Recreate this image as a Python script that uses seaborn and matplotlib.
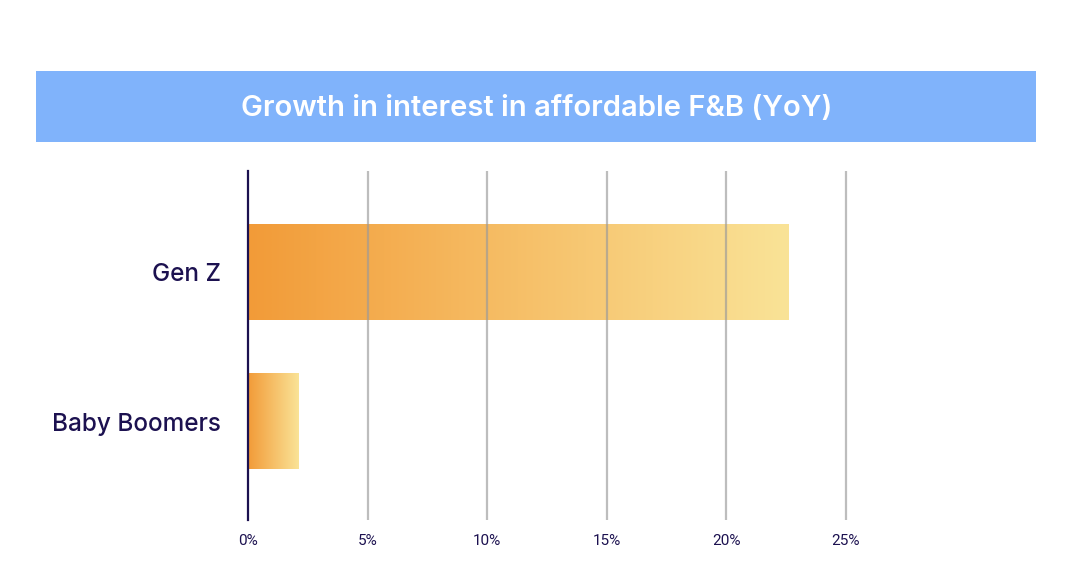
import numpy as np
import pandas as pd
import matplotlib
matplotlib.use("Agg")
import matplotlib.pyplot as plt
import seaborn as sns
from matplotlib.colors import LinearSegmentedColormap
from matplotlib.patches import Rectangle

# ------------------------------------------------
# DATA
# ------------------------------------------------

groups = ["Gen Z", "Baby Boomers"]
growth_pct = [22.6, 2.1]
tick_values = [0, 5, 10, 15, 20, 25]
tick_labels = ["0%", "5%", "10%", "15%", "20%", "25%"]
title = "Growth in interest in affordable F&B (YoY)"

NAVY = "#1c1150"
BANNER = "#80b3fb"
grad = LinearSegmentedColormap.from_list("orange_fade", ["#f29b38", "#fae397"])

df = pd.DataFrame({"group": groups, "growth": growth_pct})

# ------------------------------------------------
# PLOT
# ------------------------------------------------

sns.set_style("white")
plt.rcParams["font.family"] = ["Inter", "DejaVu Sans"]

W, H = 1078, 588
fig = plt.figure(figsize=(W / 100, H / 100), dpi=100)

# title banner
fig.patches.append(Rectangle((36 / W, 1 - 142 / H), 1000 / W, 71 / H,
                             transform=fig.transFigure, facecolor=BANNER,
                             edgecolor="none", zorder=0))
fig.text(537 / W, 1 - 108 / H, title, ha="center", va="center",
         color="white", fontsize=21, fontweight="semibold")

ax = fig.add_axes([248 / W, 1 - 520 / H, 788 / W, 349 / H])

sns.barplot(data=df, x="growth", y="group", orient="h", width=0.64,
            ax=ax, color="#f29b38")

# swap flat fill for a left-to-right gradient
ramp = np.linspace(0, 1, 256).reshape(1, -1)
for bar in ax.patches:
    x0, y0 = bar.get_x(), bar.get_y()
    w, h = bar.get_width(), bar.get_height()
    bar.set_facecolor("none")
    ax.imshow(ramp, cmap=grad, aspect="auto", extent=(x0, x0 + w, y0 + h, y0),
              zorder=1, interpolation="bicubic")
ax.set_xlim(0, 32.95)
ax.set_ylim(1.66, -0.68)

for v in tick_values[1:]:
    ax.axvline(v, color="#9a9a9a", lw=1.6, alpha=0.65, zorder=3)

ax.set_xticks(tick_values)
ax.set_xticklabels(tick_labels, fontfamily="Roboto", fontsize=11, color=NAVY)
ax.tick_params(axis="x", length=0, pad=10)
ax.tick_params(axis="y", length=0, pad=19.5, labelsize=17.5, labelcolor=NAVY)
for lbl in ax.get_yticklabels():
    lbl.set_fontweight("medium")

ax.set_xlabel("")
ax.set_ylabel("")
for side in ["top", "right", "bottom"]:
    ax.spines[side].set_visible(False)
ax.spines["left"].set_color(NAVY)
ax.spines["left"].set_linewidth(1.6)
ax.spines["left"].set_zorder(4)

fig.savefig("out.png", dpi=100)
